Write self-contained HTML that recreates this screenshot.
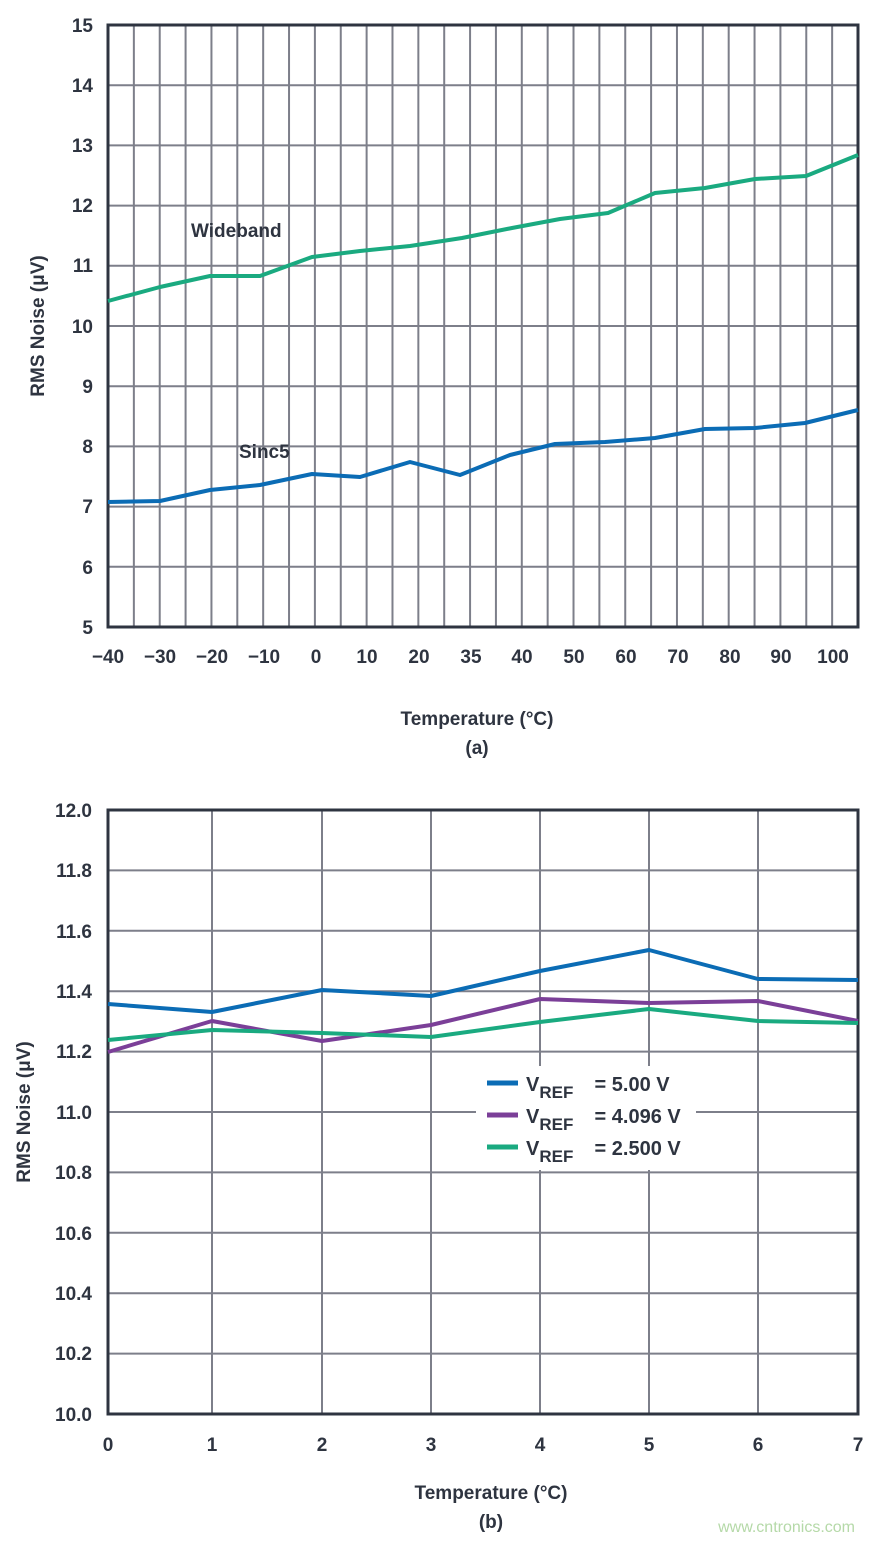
<!DOCTYPE html>
<html><head><meta charset="utf-8"><style>
html,body{margin:0;padding:0;background:#fff;}
svg{display:block;}
text{font-family:"Liberation Sans",sans-serif;font-weight:bold;fill:#2e3440;}
</style></head><body>
<svg id="s" width="874" height="1541" viewBox="0 0 874 1541" xmlns="http://www.w3.org/2000/svg">
<g id="g1" stroke="#7d7f8a" stroke-width="2"></g>
<g id="g2" stroke="#7d7f8a" stroke-width="2"></g>
<rect x="108" y="25" width="750" height="602" fill="none" stroke="#2e3440" stroke-width="3"/>
<polyline fill="none" stroke="#1aaa80" stroke-width="4" stroke-linejoin="round" points="108,301 160,287 210,276 260,276 312,257 360,251 410,246 462,238 512,228 560,219 608,213 655,193 705,188 755,179 806,176 858,155"/>
<polyline fill="none" stroke="#0b6cb5" stroke-width="4" stroke-linejoin="round" points="108,502 160,501 210,490 260,485 312,474 360,477 410,462 460,475 510,455 555,444 605,442 655,438 705,429 755,428 805,423 858,410"/>
<text x="191" y="237" font-size="19">Wideband</text>
<text x="239" y="458" font-size="19">Sinc5</text>
<g font-size="19" text-anchor="end">
<text x="93" y="32">15</text><text x="93" y="92">14</text><text x="93" y="152">13</text><text x="93" y="212">12</text><text x="93" y="272">11</text><text x="93" y="333">10</text><text x="93" y="393">9</text><text x="93" y="453">8</text><text x="93" y="513">7</text><text x="93" y="574">6</text><text x="93" y="634">5</text>
</g>
<g font-size="19" text-anchor="middle">
<text x="108" y="663">−40</text><text x="160" y="663">−30</text><text x="212" y="663">−20</text><text x="264" y="663">−10</text><text x="316" y="663">0</text><text x="367" y="663">10</text><text x="419" y="663">20</text><text x="471" y="663">35</text><text x="522" y="663">40</text><text x="574" y="663">50</text><text x="626" y="663">60</text><text x="678" y="663">70</text><text x="730" y="663">80</text><text x="781" y="663">90</text><text x="833" y="663">100</text>
<text x="477" y="725" font-size="19">Temperature (°C)</text>
<text x="477" y="754" font-size="19">(a)</text>
</g>
<text transform="translate(44,326) rotate(-90)" font-size="19" text-anchor="middle">RMS Noise (μV)</text>

<rect x="108" y="810" width="750" height="604" fill="none" stroke="#2e3440" stroke-width="3"/>
<rect x="476" y="1066" width="220" height="104" fill="#fff"/>
<polyline fill="none" stroke="#0b6cb5" stroke-width="4" stroke-linejoin="round" points="108,1004 212,1012 322,990 431,996 540,971 649,950 758,979 858,980"/>
<polyline fill="none" stroke="#7b3f98" stroke-width="4" stroke-linejoin="round" points="108,1052 212,1021 322,1041 431,1025 540,999 649,1003 758,1001 858,1021"/>
<polyline fill="none" stroke="#1aaa80" stroke-width="4" stroke-linejoin="round" points="108,1040 212,1030 322,1033 431,1037 540,1022 649,1009 758,1021 858,1023"/>
<line x1="487" y1="1083" x2="518" y2="1083" stroke="#0b6cb5" stroke-width="5"/>
<line x1="487" y1="1115" x2="518" y2="1115" stroke="#7b3f98" stroke-width="5"/>
<line x1="487" y1="1147" x2="518" y2="1147" stroke="#1aaa80" stroke-width="5"/>
<g font-size="20">
<text x="526" y="1091">V<tspan font-size="17" dy="7">REF</tspan><tspan dy="-7" x="589"> = 5.00 V</tspan></text>
<text x="526" y="1123">V<tspan font-size="17" dy="7">REF</tspan><tspan dy="-7" x="589"> = 4.096 V</tspan></text>
<text x="526" y="1155">V<tspan font-size="17" dy="7">REF</tspan><tspan dy="-7" x="589"> = 2.500 V</tspan></text>
</g>
<g font-size="19" text-anchor="end">
<text x="92" y="817">12.0</text><text x="92" y="877">11.8</text><text x="92" y="938">11.6</text><text x="92" y="998">11.4</text><text x="92" y="1058">11.2</text><text x="92" y="1119">11.0</text><text x="92" y="1179">10.8</text><text x="92" y="1240">10.6</text><text x="92" y="1300">10.4</text><text x="92" y="1360">10.2</text><text x="92" y="1421">10.0</text>
</g>
<g font-size="19" text-anchor="middle">
<text x="108" y="1451">0</text><text x="212" y="1451">1</text><text x="322" y="1451">2</text><text x="431" y="1451">3</text><text x="540" y="1451">4</text><text x="649" y="1451">5</text><text x="758" y="1451">6</text><text x="858" y="1451">7</text>
<text x="491" y="1499">Temperature (°C)</text>
<text x="491" y="1528">(b)</text>
</g>
<text transform="translate(30,1112) rotate(-90)" font-size="19" text-anchor="middle">RMS Noise (μV)</text>
<text x="855" y="1532" font-size="16" text-anchor="end" style="font-weight:normal;fill:#b5d9a8">www.cntronics.com</text>
</svg>
<script>
var ns="http://www.w3.org/2000/svg";
function L(g,x1,y1,x2,y2){var l=document.createElementNS(ns,"line");l.setAttribute("x1",x1);l.setAttribute("y1",y1);l.setAttribute("x2",x2);l.setAttribute("y2",y2);g.appendChild(l);}
var g1=document.getElementById("g1"),g2=document.getElementById("g2");
for(var i=1;i<29;i++){var x=108+i*750/29;L(g1,x,25,x,627);}
for(var j=1;j<10;j++){var y=25+j*60.2;L(g1,108,y,858,y);}
[212,322,431,540,649,758].forEach(function(x){L(g2,x,810,x,1414);});
for(var k=1;k<10;k++){var y2=810+k*60.4;L(g2,108,y2,858,y2);}
</script>
</body></html>
